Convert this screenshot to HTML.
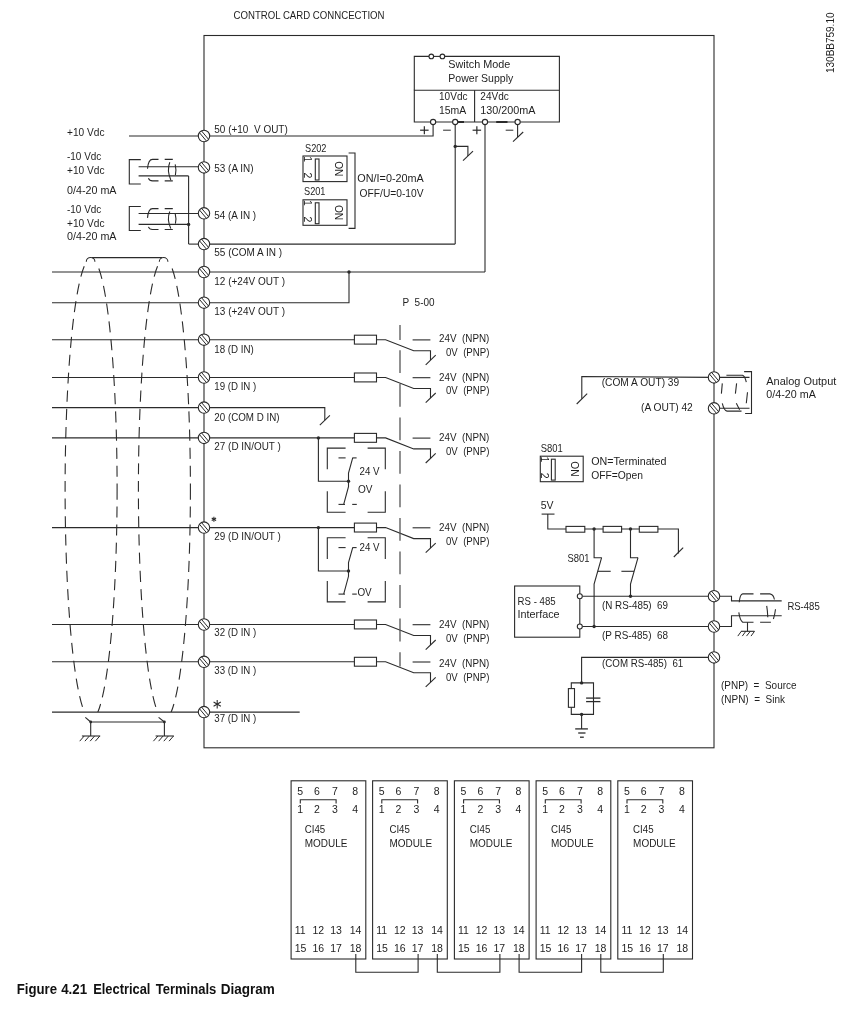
<!DOCTYPE html>
<html><head><meta charset="utf-8"><style>
html,body{margin:0;padding:0;background:#fff;}
svg{display:block;will-change:transform;}
text{white-space:pre;font-family:"Liberation Sans",sans-serif;stroke:none;}
</style></head><body>
<svg width="860" height="1013" viewBox="0 0 860 1013">
<g stroke="#2b2b2b" stroke-width="1.1" fill="none" stroke-linecap="butt">
<rect x="204" y="35.5" width="510" height="712.3" fill="none" stroke-width="1.1"/>
<text x="233.5" y="19.2" font-size="10.8" textLength="151" lengthAdjust="spacingAndGlyphs" fill="#1e1e1e">CONTROL CARD CONNCECTION</text>
<text fill="#1e1e1e" x="0" y="0" font-size="10.5" transform="translate(834.2,73) rotate(-90)" textLength="60.5" lengthAdjust="spacingAndGlyphs">130BB759.10</text>
<polyline points="414.3,90.2 414.3,56.4 429.1,56.4" fill="none"/>
<line x1="433.5" y1="56.4" x2="440.2" y2="56.4"/>
<polyline points="444.6,56.4 559.4,56.4 559.4,122 414.3,122 414.3,90.2 559.4,90.2" fill="none"/>
<circle cx="431.3" cy="56.4" r="2.3" fill="#fff"/>
<circle cx="442.4" cy="56.4" r="2.3" fill="#fff"/>
<line x1="474.6" y1="90.2" x2="474.6" y2="122"/>
<text x="448.3" y="67.9" font-size="10.5" textLength="62" lengthAdjust="spacingAndGlyphs" fill="#1e1e1e">Switch Mode</text>
<text x="448.3" y="81.9" font-size="10.5" textLength="65" lengthAdjust="spacingAndGlyphs" fill="#1e1e1e">Power Supply</text>
<text x="439" y="99.9" font-size="10.5" textLength="28.5" lengthAdjust="spacingAndGlyphs" fill="#1e1e1e">10Vdc</text>
<text x="439" y="113.9" font-size="10.5" textLength="27.3" lengthAdjust="spacingAndGlyphs" fill="#1e1e1e">15mA</text>
<text x="480.3" y="99.9" font-size="10.5" textLength="28.5" lengthAdjust="spacingAndGlyphs" fill="#1e1e1e">24Vdc</text>
<text x="480.3" y="113.9" font-size="10.5" textLength="55.3" lengthAdjust="spacingAndGlyphs" fill="#1e1e1e">130/200mA</text>
<line x1="457.8" y1="122" x2="464" y2="122" stroke-width="2"/>
<line x1="496.2" y1="122" x2="507.5" y2="122" stroke-width="2"/>
<circle cx="433.1" cy="122" r="2.6" fill="#fff"/>
<circle cx="455.2" cy="122" r="2.6" fill="#fff"/>
<circle cx="485" cy="122" r="2.6" fill="#fff"/>
<circle cx="517.6" cy="122" r="2.6" fill="#fff"/>
<line x1="420.1" y1="130.2" x2="428.6" y2="130.2" stroke-width="1.2"/>
<line x1="424.35" y1="126.2" x2="424.35" y2="134.2" stroke-width="1.2"/>
<line x1="443.1" y1="130.2" x2="450.8" y2="130.2" stroke-width="1.0"/>
<line x1="472.6" y1="130.2" x2="481.1" y2="130.2" stroke-width="1.2"/>
<line x1="476.85" y1="126.2" x2="476.85" y2="134.2" stroke-width="1.2"/>
<line x1="505.7" y1="130.2" x2="513.3" y2="130.2" stroke-width="1.0"/>
<polyline points="433.1,124.6 433.1,136 204,136" fill="none"/>
<line x1="455.2" y1="124.6" x2="455.2" y2="244.1"/>
<polyline points="204,244.1 455.2,244.1" fill="none"/>
<circle cx="455.2" cy="146.4" r="1.7" fill="#2b2b2b" stroke="none"/>
<polyline points="455.2,146.4 467.9,146.4 467.9,155.9" fill="none"/>
<line x1="473" y1="151.1" x2="463" y2="160.7"/>
<line x1="485" y1="124.6" x2="485" y2="272"/>
<line x1="517.6" y1="124.6" x2="517.6" y2="137"/>
<line x1="523.2" y1="132" x2="513" y2="141.7"/>
<text x="67" y="136" font-size="10.5" textLength="37.5" lengthAdjust="spacingAndGlyphs" fill="#1e1e1e">+10 Vdc</text>
<line x1="129" y1="136" x2="204" y2="136"/>
<text x="67" y="160.2" font-size="10.5" textLength="34.3" lengthAdjust="spacingAndGlyphs" fill="#1e1e1e">-10 Vdc</text>
<text x="67" y="174.4" font-size="10.5" textLength="37.5" lengthAdjust="spacingAndGlyphs" fill="#1e1e1e">+10 Vdc</text>
<text x="67" y="193.8" font-size="10.5" textLength="49.5" lengthAdjust="spacingAndGlyphs" fill="#1e1e1e">0/4-20 mA</text>
<text x="67" y="212.8" font-size="10.5" textLength="34.3" lengthAdjust="spacingAndGlyphs" fill="#1e1e1e">-10 Vdc</text>
<text x="67" y="226.6" font-size="10.5" textLength="37.5" lengthAdjust="spacingAndGlyphs" fill="#1e1e1e">+10 Vdc</text>
<text x="67" y="239.8" font-size="10.5" textLength="49.5" lengthAdjust="spacingAndGlyphs" fill="#1e1e1e">0/4-20 mA</text>
<polyline points="140.8,159.6 129.3,159.6 129.3,184 140.8,184" fill="none"/>
<line x1="138.6" y1="166.7" x2="204" y2="166.7"/>
<polyline points="138.6,175.9 188.6,175.9" fill="none" stroke-width="1.4"/>
<path d="M147.5,168.7 Q148.3,159.4 152.5,159.4 L158.5,159.4 M164.7,159.4 L172.8,159.4" fill="none"/>
<path d="M148.4,178.3 Q149.5,180.9 152.5,180.9 L158.5,180.9 M164.7,180.9 L172.8,180.9" fill="none"/>
<path d="M169.8,162.3 Q166.6,170.15 170.8,180" fill="none"/>
<path d="M175.2,164.3 Q176.6,170.15 175.4,175.1" fill="none"/>
<polyline points="140.8,206.5 129.3,206.5 129.3,230.5 140.8,230.5" fill="none"/>
<line x1="138.6" y1="213.5" x2="204" y2="213.5"/>
<polyline points="138.6,224.4 188.6,224.4" fill="none" stroke-width="1.4"/>
<path d="M147.5,217.9 Q148.3,208.6 152.5,208.6 L158.5,208.6 M164.7,208.6 L172.8,208.6" fill="none"/>
<path d="M148.4,226.9 Q149.5,229.5 152.5,229.5 L158.5,229.5 M164.7,229.5 L172.8,229.5" fill="none"/>
<path d="M169.8,211.5 Q166.6,219.05 170.8,228.6" fill="none"/>
<path d="M175.2,213.5 Q176.6,219.05 175.4,223.7" fill="none"/>
<line x1="188.6" y1="175.9" x2="188.6" y2="244.1"/>
<line x1="188.6" y1="244.1" x2="204" y2="244.1"/>
<circle cx="188.6" cy="224.4" r="1.7" fill="#2b2b2b" stroke="none"/>
<text x="305" y="152" font-size="10.5" textLength="21.5" lengthAdjust="spacingAndGlyphs" fill="#1e1e1e">S202</text>
<rect x="303" y="156" width="44" height="25.6" fill="none"/>
<rect x="315.3" y="159" width="3.7" height="21" fill="#fff"/>
<text fill="#1e1e1e" font-size="10.5" transform="translate(304,156.2) rotate(90)">1</text>
<text fill="#1e1e1e" font-size="10.5" transform="translate(304,172.6) rotate(90)">2</text>
<text fill="#1e1e1e" font-size="10.5" transform="translate(334.7,161.2) rotate(90)" textLength="15.2" lengthAdjust="spacingAndGlyphs">ON</text>
<text x="304" y="195" font-size="10.5" textLength="21.5" lengthAdjust="spacingAndGlyphs" fill="#1e1e1e">S201</text>
<rect x="303" y="199.8" width="44" height="25.5" fill="none"/>
<rect x="315.3" y="202.8" width="3.7" height="20.9" fill="#fff"/>
<text fill="#1e1e1e" font-size="10.5" transform="translate(304,200) rotate(90)">1</text>
<text fill="#1e1e1e" font-size="10.5" transform="translate(304,216.4) rotate(90)">2</text>
<text fill="#1e1e1e" font-size="10.5" transform="translate(334.7,204.95) rotate(90)" textLength="15.2" lengthAdjust="spacingAndGlyphs">ON</text>
<polyline points="348.6,153 355,153 355,228.4 348.6,228.4" fill="none"/>
<text x="357.3" y="182" font-size="10.5" textLength="66.5" lengthAdjust="spacingAndGlyphs" fill="#1e1e1e">ON/I=0-20mA</text>
<text x="359.6" y="197.4" font-size="10.5" textLength="64" lengthAdjust="spacingAndGlyphs" fill="#1e1e1e">OFF/U=0-10V</text>
<line x1="52" y1="272" x2="204" y2="272"/>
<line x1="52" y1="302.7" x2="204" y2="302.7"/>
<line x1="52" y1="339.7" x2="204" y2="339.7"/>
<line x1="52" y1="377.5" x2="204" y2="377.5"/>
<line x1="52" y1="407.6" x2="204" y2="407.6"/>
<line x1="52" y1="437.9" x2="204" y2="437.9"/>
<line x1="52" y1="527.6" x2="204" y2="527.6"/>
<line x1="52" y1="624.5" x2="204" y2="624.5"/>
<line x1="52" y1="661.8" x2="204" y2="661.8"/>
<line x1="52" y1="712.1" x2="204" y2="712.1"/>
<defs><clipPath id="ec"><rect x="0" y="265" width="204" height="447"/></clipPath></defs>
<ellipse cx="91.1" cy="489" rx="26" ry="231" fill="none" stroke-dasharray="11 7" clip-path="url(#ec)"/>
<ellipse cx="164.4" cy="489" rx="26" ry="231" fill="none" stroke-dasharray="11 7" clip-path="url(#ec)"/>
<path d="M86.3,261.8 A4.3,4.3 0 0 1 94.9,261.8" fill="none"/>
<path d="M159.3,261.8 A4.3,4.3 0 0 1 167.9,261.8" fill="none"/>
<line x1="92" y1="257.6" x2="162" y2="257.6"/>
<line x1="90.7" y1="722" x2="164.4" y2="722"/>
<circle cx="90.7" cy="722" r="1.4" fill="#2b2b2b" stroke="none"/>
<circle cx="164.4" cy="722" r="1.4" fill="#2b2b2b" stroke="none"/>
<line x1="85.3" y1="717.4" x2="90.7" y2="722"/>
<line x1="158.6" y1="717.4" x2="164.4" y2="722"/>
<line x1="90.7" y1="722" x2="90.7" y2="736"/>
<line x1="81.9" y1="736" x2="100.2" y2="736"/>
<line x1="84.2" y1="736" x2="79.7" y2="741.2" stroke-width="1.0"/>
<line x1="89.4" y1="736" x2="84.9" y2="741.2" stroke-width="1.0"/>
<line x1="94.6" y1="736" x2="90.1" y2="741.2" stroke-width="1.0"/>
<line x1="99.8" y1="736" x2="95.3" y2="741.2" stroke-width="1.0"/>
<line x1="164.4" y1="722" x2="164.4" y2="736"/>
<line x1="155.6" y1="736" x2="173.9" y2="736"/>
<line x1="157.9" y1="736" x2="153.4" y2="741.2" stroke-width="1.0"/>
<line x1="163.1" y1="736" x2="158.6" y2="741.2" stroke-width="1.0"/>
<line x1="168.3" y1="736" x2="163.8" y2="741.2" stroke-width="1.0"/>
<line x1="173.5" y1="736" x2="169" y2="741.2" stroke-width="1.0"/>
<text x="214.3" y="132.6" font-size="10.5" textLength="73.5" lengthAdjust="spacingAndGlyphs" fill="#1e1e1e">50 (+10  V OUT)</text>
<text x="214.3" y="171.7" font-size="10.5" textLength="39.2" lengthAdjust="spacingAndGlyphs" fill="#1e1e1e">53 (A IN)</text>
<text x="214.3" y="219" font-size="10.5" textLength="41.8" lengthAdjust="spacingAndGlyphs" fill="#1e1e1e">54 (A IN )</text>
<text x="214.3" y="255.7" font-size="10.5" textLength="67.8" lengthAdjust="spacingAndGlyphs" fill="#1e1e1e">55 (COM A IN )</text>
<text x="214.3" y="285.1" font-size="10.5" textLength="70.7" lengthAdjust="spacingAndGlyphs" fill="#1e1e1e">12 (+24V OUT )</text>
<text x="214.3" y="314.9" font-size="10.5" textLength="70.7" lengthAdjust="spacingAndGlyphs" fill="#1e1e1e">13 (+24V OUT )</text>
<text x="214.3" y="352.8" font-size="10.5" textLength="39.5" lengthAdjust="spacingAndGlyphs" fill="#1e1e1e">18 (D IN)</text>
<text x="214.3" y="389.7" font-size="10.5" textLength="42" lengthAdjust="spacingAndGlyphs" fill="#1e1e1e">19 (D IN )</text>
<text x="214.3" y="420.5" font-size="10.5" textLength="65.3" lengthAdjust="spacingAndGlyphs" fill="#1e1e1e">20 (COM D IN)</text>
<text x="214.3" y="450.3" font-size="10.5" textLength="66.5" lengthAdjust="spacingAndGlyphs" fill="#1e1e1e">27 (D IN/OUT )</text>
<text x="214.3" y="540.3" font-size="10.5" textLength="66.5" lengthAdjust="spacingAndGlyphs" fill="#1e1e1e">29 (D IN/OUT )</text>
<text x="214.3" y="636.4" font-size="10.5" textLength="42" lengthAdjust="spacingAndGlyphs" fill="#1e1e1e">32 (D IN )</text>
<text x="214.3" y="674" font-size="10.5" textLength="42" lengthAdjust="spacingAndGlyphs" fill="#1e1e1e">33 (D IN )</text>
<text x="214.3" y="721.9" font-size="10.5" textLength="42" lengthAdjust="spacingAndGlyphs" fill="#1e1e1e">37 (D IN )</text>
<line x1="204" y1="272" x2="485" y2="272"/>
<circle cx="349" cy="272" r="1.7" fill="#2b2b2b" stroke="none"/>
<polyline points="204,302.7 349,302.7 349,272" fill="none"/>
<polyline points="204,407.6 324.8,407.6 324.8,420.2" fill="none"/>
<line x1="329.9" y1="415.3" x2="319.8" y2="425.1"/>
<line x1="204" y1="712.1" x2="299.7" y2="712.1"/>
<line x1="213.9" y1="516.7" x2="213.9" y2="521.7" stroke-width="1.1"/>
<line x1="211.73" y1="517.95" x2="216.07" y2="520.45" stroke-width="1.1"/>
<line x1="216.07" y1="517.95" x2="211.73" y2="520.45" stroke-width="1.1"/>
<line x1="217.2" y1="700" x2="217.2" y2="708.4" stroke-width="1.1"/>
<line x1="213.56" y1="702.1" x2="220.84" y2="706.3" stroke-width="1.1"/>
<line x1="220.84" y1="702.1" x2="213.56" y2="706.3" stroke-width="1.1"/>
<line x1="204" y1="339.7" x2="354.4" y2="339.7"/>
<rect x="354.4" y="335.2" width="22.1" height="8.9" fill="#fff"/>
<polyline points="376.5,339.7 385.6,339.7 413.7,350.7 430.5,350.7 430.5,360.1" fill="none"/>
<line x1="435.7" y1="355.2" x2="425.7" y2="364.8"/>
<line x1="412.6" y1="339.9" x2="430.4" y2="339.9"/>
<text x="439.1" y="341.8" font-size="10.5" textLength="50.3" lengthAdjust="spacingAndGlyphs" fill="#1e1e1e">24V  (NPN)</text>
<text x="446" y="355.6" font-size="10.5" textLength="43.4" lengthAdjust="spacingAndGlyphs" fill="#1e1e1e">0V  (PNP)</text>
<line x1="204" y1="377.5" x2="354.4" y2="377.5"/>
<rect x="354.4" y="373" width="22.1" height="8.9" fill="#fff"/>
<polyline points="376.5,377.5 385.6,377.5 413.7,388.5 430.5,388.5 430.5,397.9" fill="none"/>
<line x1="435.7" y1="393" x2="425.7" y2="402.6"/>
<line x1="412.6" y1="377.7" x2="430.4" y2="377.7"/>
<text x="439.1" y="380.6" font-size="10.5" textLength="50.3" lengthAdjust="spacingAndGlyphs" fill="#1e1e1e">24V  (NPN)</text>
<text x="446" y="394.4" font-size="10.5" textLength="43.4" lengthAdjust="spacingAndGlyphs" fill="#1e1e1e">0V  (PNP)</text>
<line x1="204" y1="437.9" x2="354.4" y2="437.9"/>
<rect x="354.4" y="433.4" width="22.1" height="8.9" fill="#fff"/>
<polyline points="376.5,437.9 385.6,437.9 413.7,448.9 430.5,448.9 430.5,458.3" fill="none"/>
<line x1="435.7" y1="453.4" x2="425.7" y2="463"/>
<line x1="412.6" y1="438.1" x2="430.4" y2="438.1"/>
<text x="439.1" y="441.2" font-size="10.5" textLength="50.3" lengthAdjust="spacingAndGlyphs" fill="#1e1e1e">24V  (NPN)</text>
<text x="446" y="455" font-size="10.5" textLength="43.4" lengthAdjust="spacingAndGlyphs" fill="#1e1e1e">0V  (PNP)</text>
<line x1="204" y1="527.6" x2="354.4" y2="527.6"/>
<rect x="354.4" y="523.1" width="22.1" height="8.9" fill="#fff"/>
<polyline points="376.5,527.6 385.6,527.6 413.7,538.6 430.5,538.6 430.5,548" fill="none"/>
<line x1="435.7" y1="543.1" x2="425.7" y2="552.7"/>
<line x1="412.6" y1="527.8" x2="430.4" y2="527.8"/>
<text x="439.1" y="531.2" font-size="10.5" textLength="50.3" lengthAdjust="spacingAndGlyphs" fill="#1e1e1e">24V  (NPN)</text>
<text x="446" y="545" font-size="10.5" textLength="43.4" lengthAdjust="spacingAndGlyphs" fill="#1e1e1e">0V  (PNP)</text>
<line x1="204" y1="624.5" x2="354.4" y2="624.5"/>
<rect x="354.4" y="620" width="22.1" height="8.9" fill="#fff"/>
<polyline points="376.5,624.5 385.6,624.5 413.7,635.5 430.5,635.5 430.5,644.9" fill="none"/>
<line x1="435.7" y1="640" x2="425.7" y2="649.6"/>
<line x1="412.6" y1="624.7" x2="430.4" y2="624.7"/>
<text x="439.1" y="627.75" font-size="10.5" textLength="50.3" lengthAdjust="spacingAndGlyphs" fill="#1e1e1e">24V  (NPN)</text>
<text x="446" y="641.55" font-size="10.5" textLength="43.4" lengthAdjust="spacingAndGlyphs" fill="#1e1e1e">0V  (PNP)</text>
<line x1="204" y1="661.8" x2="354.4" y2="661.8"/>
<rect x="354.4" y="657.3" width="22.1" height="8.9" fill="#fff"/>
<polyline points="376.5,661.8 385.6,661.8 413.7,672.8 430.5,672.8 430.5,682.2" fill="none"/>
<line x1="435.7" y1="677.3" x2="425.7" y2="686.9"/>
<line x1="412.6" y1="662" x2="430.4" y2="662"/>
<text x="439.1" y="666.9" font-size="10.5" textLength="50.3" lengthAdjust="spacingAndGlyphs" fill="#1e1e1e">24V  (NPN)</text>
<text x="446" y="680.7" font-size="10.5" textLength="43.4" lengthAdjust="spacingAndGlyphs" fill="#1e1e1e">0V  (PNP)</text>
<text x="402.6" y="305.9" font-size="10.5" textLength="32" lengthAdjust="spacingAndGlyphs" fill="#1e1e1e">P  5-00</text>
<line x1="400" y1="325" x2="400" y2="340" stroke-width="1.3" stroke="#555"/>
<line x1="400" y1="350.3" x2="400" y2="373.1" stroke-width="1.3" stroke="#555"/>
<line x1="400" y1="383.84" x2="400" y2="406.64" stroke-width="1.3" stroke="#555"/>
<line x1="400" y1="417.38" x2="400" y2="440.18" stroke-width="1.3" stroke="#555"/>
<line x1="400" y1="450.92" x2="400" y2="473.72" stroke-width="1.3" stroke="#555"/>
<line x1="400" y1="484.46" x2="400" y2="507.26" stroke-width="1.3" stroke="#555"/>
<line x1="400" y1="518" x2="400" y2="540.8" stroke-width="1.3" stroke="#555"/>
<line x1="400" y1="551.54" x2="400" y2="574.34" stroke-width="1.3" stroke="#555"/>
<line x1="400" y1="585.08" x2="400" y2="607.88" stroke-width="1.3" stroke="#555"/>
<line x1="400" y1="618.62" x2="400" y2="641.42" stroke-width="1.3" stroke="#555"/>
<line x1="400" y1="652.16" x2="400" y2="666.6" stroke-width="1.3" stroke="#555"/>
<circle cx="318.4" cy="437.9" r="1.7" fill="#2b2b2b" stroke="none"/>
<polyline points="318.4,437.9 318.4,481.3 348.5,481.3" fill="none"/>
<circle cx="348.5" cy="481.3" r="1.7" fill="#2b2b2b" stroke="none"/>
<polyline points="345.6,448.1 327.3,448.1 327.3,469.3" fill="none"/>
<polyline points="367.6,448.1 385.3,448.1 385.3,469.3" fill="none"/>
<polyline points="327.3,491.3 327.3,512.2 345.6,512.2" fill="none"/>
<polyline points="385.3,491.3 385.3,512.2 367.6,512.2" fill="none"/>
<line x1="338.5" y1="457.9" x2="345.6" y2="457.9"/>
<line x1="352.4" y1="457.9" x2="356.6" y2="457.9"/>
<line x1="338.5" y1="504.4" x2="345" y2="504.4"/>
<line x1="352.2" y1="504.4" x2="356.8" y2="504.4"/>
<polyline points="352.7,457.9 348.5,473 348.5,486.6 343.7,504.4" fill="none"/>
<text x="359.5" y="474.8" font-size="10.5" textLength="20" lengthAdjust="spacingAndGlyphs" fill="#1e1e1e">24 V</text>
<text x="358" y="492.8" font-size="10.5" textLength="14.5" lengthAdjust="spacingAndGlyphs" fill="#1e1e1e">OV</text>
<circle cx="318.4" cy="527.6" r="1.7" fill="#2b2b2b" stroke="none"/>
<polyline points="318.4,527.6 318.4,571 348.5,571" fill="none"/>
<circle cx="348.5" cy="571" r="1.7" fill="#2b2b2b" stroke="none"/>
<polyline points="345.6,537.8 327.3,537.8 327.3,559" fill="none"/>
<polyline points="367.6,537.8 385.3,537.8 385.3,559" fill="none"/>
<polyline points="327.3,581 327.3,601.9 345.6,601.9" fill="none"/>
<polyline points="385.3,581 385.3,601.9 367.6,601.9" fill="none"/>
<line x1="338.5" y1="547.6" x2="345.6" y2="547.6"/>
<line x1="352.4" y1="547.6" x2="356.6" y2="547.6"/>
<line x1="338.5" y1="594.1" x2="345" y2="594.1"/>
<line x1="352.2" y1="594.1" x2="356.8" y2="594.1"/>
<polyline points="352.7,547.6 348.5,562.7 348.5,576.3 343.7,594.1" fill="none"/>
<text x="359.5" y="550.9" font-size="10.5" textLength="20" lengthAdjust="spacingAndGlyphs" fill="#1e1e1e">24 V</text>
<text x="357.4" y="595.6" font-size="10.5" textLength="14.3" lengthAdjust="spacingAndGlyphs" fill="#1e1e1e">OV</text>
<polyline points="714,377.4 581.8,376.5 581.8,398.8" fill="none"/>
<line x1="587.2" y1="393.6" x2="576.7" y2="404"/>
<text x="601.7" y="386" font-size="10.5" textLength="77.5" lengthAdjust="spacingAndGlyphs" fill="#1e1e1e">(COM A OUT) 39</text>
<text x="641" y="411" font-size="10.5" textLength="51.8" lengthAdjust="spacingAndGlyphs" fill="#1e1e1e">(A OUT) 42</text>
<line x1="714" y1="377.4" x2="749.5" y2="377.4"/>
<line x1="714" y1="408.3" x2="749.5" y2="408.3"/>
<polyline points="744.1,371.6 751.5,371.6 751.5,413.5 745.1,413.5" fill="none"/>
<path d="M726.4,375.3 L742.5,375.3 Q745,376 746.3,382.2" fill="none"/>
<path d="M722.3,383.4 L721.4,393.6 M736.6,383.4 L735.4,393.6 M747.5,392.2 L746.3,403.3" fill="none"/>
<path d="M722.3,403.3 Q724,410.5 727.1,411.1 L741.5,411.1 M736.3,403.3 L739.6,409.7" fill="none"/>
<text x="766.3" y="384.9" font-size="10.5" textLength="70" lengthAdjust="spacingAndGlyphs" fill="#1e1e1e">Analog Output</text>
<text x="766.3" y="397.8" font-size="10.5" textLength="49.5" lengthAdjust="spacingAndGlyphs" fill="#1e1e1e">0/4-20 mA</text>
<text x="540.8" y="452" font-size="10.5" textLength="22" lengthAdjust="spacingAndGlyphs" fill="#1e1e1e">S801</text>
<rect x="540.3" y="456.2" width="42.9" height="25.5" fill="none"/>
<rect x="551.4" y="459.2" width="3.8" height="20.9" fill="#fff"/>
<text fill="#1e1e1e" font-size="10.5" transform="translate(541.3,456.4) rotate(90)">1</text>
<text fill="#1e1e1e" font-size="10.5" transform="translate(541.3,472.8) rotate(90)">2</text>
<text fill="#1e1e1e" font-size="10.5" transform="translate(570.9,461.35) rotate(90)" textLength="15.2" lengthAdjust="spacingAndGlyphs">ON</text>
<text x="591.2" y="465.1" font-size="10.5" textLength="75.3" lengthAdjust="spacingAndGlyphs" fill="#1e1e1e">ON=Terminated</text>
<text x="591.2" y="479.2" font-size="10.5" textLength="51.8" lengthAdjust="spacingAndGlyphs" fill="#1e1e1e">OFF=Open</text>
<text x="540.8" y="508.7" font-size="10.5" textLength="12.8" lengthAdjust="spacingAndGlyphs" fill="#1e1e1e">5V</text>
<line x1="541.6" y1="514.1" x2="554.5" y2="514.1"/>
<polyline points="547.8,514.1 547.8,529 678.4,529 678.4,553.5" fill="none"/>
<line x1="683.2" y1="547.6" x2="673.8" y2="557"/>
<rect x="566" y="526.4" width="18.8" height="5.8" fill="#fff"/>
<rect x="603.1" y="526.4" width="18.5" height="5.8" fill="#fff"/>
<rect x="639.3" y="526.4" width="18.6" height="5.8" fill="#fff"/>
<circle cx="594.1" cy="529" r="1.7" fill="#2b2b2b" stroke="none"/>
<circle cx="630.5" cy="529" r="1.7" fill="#2b2b2b" stroke="none"/>
<polyline points="594.1,529 594.1,557.7 601.6,557.7" fill="none"/>
<polyline points="601.6,557.7 594.1,584.2 594.1,626.5" fill="none"/>
<polyline points="630.5,529 630.5,557.7 638,557.7" fill="none"/>
<polyline points="638,557.7 630.5,584.2 630.5,596.2" fill="none"/>
<line x1="597.7" y1="571.3" x2="610.7" y2="571.3"/>
<line x1="621.4" y1="571.3" x2="634" y2="571.3"/>
<text x="567.5" y="561.9" font-size="10.5" textLength="22" lengthAdjust="spacingAndGlyphs" fill="#1e1e1e">S801</text>
<rect x="514.6" y="586" width="65.2" height="51.2" fill="none"/>
<line x1="582.3" y1="596.2" x2="714" y2="596.2"/>
<line x1="582.3" y1="626.5" x2="714" y2="626.5"/>
<circle cx="579.8" cy="596.2" r="2.5" fill="#fff"/>
<circle cx="579.8" cy="626.5" r="2.5" fill="#fff"/>
<circle cx="630.5" cy="596.2" r="1.7" fill="#2b2b2b" stroke="none"/>
<circle cx="594.1" cy="626.5" r="1.7" fill="#2b2b2b" stroke="none"/>
<text x="517.6" y="604.5" font-size="10.5" textLength="38" lengthAdjust="spacingAndGlyphs" fill="#1e1e1e">RS - 485</text>
<text x="517.6" y="618" font-size="10.5" textLength="42" lengthAdjust="spacingAndGlyphs" fill="#1e1e1e">Interface</text>
<text x="602" y="608.6" font-size="10.5" textLength="66" lengthAdjust="spacingAndGlyphs" fill="#1e1e1e">(N RS-485)  69</text>
<text x="602" y="638.5" font-size="10.5" textLength="66" lengthAdjust="spacingAndGlyphs" fill="#1e1e1e">(P RS-485)  68</text>
<text x="602" y="667.1" font-size="10.5" textLength="81.3" lengthAdjust="spacingAndGlyphs" fill="#1e1e1e">(COM RS-485)  61</text>
<polyline points="714,657.4 581.6,657.4 581.6,682.9" fill="none"/>
<circle cx="581.6" cy="682.9" r="1.7" fill="#2b2b2b" stroke="none"/>
<polyline points="571.3,688.6 571.3,682.9 593.5,682.9 593.5,714.4 571.3,714.4 571.3,707.3" fill="none"/>
<rect x="568.4" y="688.6" width="6.1" height="18.7" fill="none"/>
<line x1="586.1" y1="698.1" x2="600.4" y2="698.1" stroke-width="1.3"/>
<line x1="586.1" y1="701.6" x2="600.4" y2="701.6" stroke-width="1.3"/>
<circle cx="581.6" cy="714.4" r="1.7" fill="#2b2b2b" stroke="none"/>
<line x1="581.6" y1="714.4" x2="581.6" y2="728.9"/>
<line x1="575.2" y1="728.9" x2="587.9" y2="728.9" stroke-width="1.3"/>
<line x1="578.2" y1="733" x2="585.5" y2="733" stroke-width="1.3"/>
<line x1="580" y1="737.2" x2="583.8" y2="737.2" stroke-width="1.3"/>
<polyline points="714,596.2 731.5,596.2 731.5,600.9 781.7,600.9" fill="none"/>
<polyline points="714,626.5 731.5,626.5 731.5,615.7 781.7,615.7" fill="none"/>
<path d="M739.2,602.3 Q740,594.2 742.7,593.9 L753.5,593.9 M760.1,593.9 L769.9,593.9 Q773.5,594.5 774.4,599.5" fill="none"/>
<path d="M766.7,605.8 Q767.6,611 767.8,617.3 M775.5,609.3 Q775,614 773.4,619" fill="none"/>
<path d="M738.8,612.4 Q740,620.5 742.7,622.2 L753.5,622.2 M760.1,622.2 L770.9,622.2" fill="none"/>
<line x1="747.5" y1="622.2" x2="747.5" y2="631.3"/>
<line x1="740.9" y1="631.3" x2="754.5" y2="631.3"/>
<line x1="741.3" y1="631.3" x2="737.8" y2="636.1" stroke-width="1.0"/>
<line x1="745.8" y1="631.3" x2="742.3" y2="636.1" stroke-width="1.0"/>
<line x1="750.3" y1="631.3" x2="746.5" y2="636.1" stroke-width="1.0"/>
<line x1="754.5" y1="631.3" x2="751" y2="636.1" stroke-width="1.0"/>
<text x="787.4" y="609.6" font-size="10.5" textLength="32.3" lengthAdjust="spacingAndGlyphs" fill="#1e1e1e">RS-485</text>
<text x="721" y="688.5" font-size="10.5" textLength="75.5" lengthAdjust="spacingAndGlyphs" fill="#1e1e1e">(PNP)  =  Source</text>
<text x="721" y="702.7" font-size="10.5" textLength="64" lengthAdjust="spacingAndGlyphs" fill="#1e1e1e">(NPN)  =  Sink</text>
<circle cx="204" cy="136" r="5.7" fill="#fff"/>
<line x1="201.47" y1="130.89" x2="208.59" y2="139.37" stroke-width="1.0"/>
<line x1="199.41" y1="132.63" x2="206.53" y2="141.11" stroke-width="1.0"/>
<circle cx="204" cy="167.4" r="5.7" fill="#fff"/>
<line x1="201.47" y1="162.29" x2="208.59" y2="170.77" stroke-width="1.0"/>
<line x1="199.41" y1="164.03" x2="206.53" y2="172.51" stroke-width="1.0"/>
<circle cx="204" cy="213.3" r="5.7" fill="#fff"/>
<line x1="201.47" y1="208.19" x2="208.59" y2="216.67" stroke-width="1.0"/>
<line x1="199.41" y1="209.93" x2="206.53" y2="218.41" stroke-width="1.0"/>
<circle cx="204" cy="244.1" r="5.7" fill="#fff"/>
<line x1="201.47" y1="238.99" x2="208.59" y2="247.47" stroke-width="1.0"/>
<line x1="199.41" y1="240.73" x2="206.53" y2="249.21" stroke-width="1.0"/>
<circle cx="204" cy="272" r="5.7" fill="#fff"/>
<line x1="201.47" y1="266.89" x2="208.59" y2="275.37" stroke-width="1.0"/>
<line x1="199.41" y1="268.63" x2="206.53" y2="277.11" stroke-width="1.0"/>
<circle cx="204" cy="302.7" r="5.7" fill="#fff"/>
<line x1="201.47" y1="297.59" x2="208.59" y2="306.07" stroke-width="1.0"/>
<line x1="199.41" y1="299.33" x2="206.53" y2="307.81" stroke-width="1.0"/>
<circle cx="204" cy="339.7" r="5.7" fill="#fff"/>
<line x1="201.47" y1="334.59" x2="208.59" y2="343.07" stroke-width="1.0"/>
<line x1="199.41" y1="336.33" x2="206.53" y2="344.81" stroke-width="1.0"/>
<circle cx="204" cy="377.5" r="5.7" fill="#fff"/>
<line x1="201.47" y1="372.39" x2="208.59" y2="380.87" stroke-width="1.0"/>
<line x1="199.41" y1="374.13" x2="206.53" y2="382.61" stroke-width="1.0"/>
<circle cx="204" cy="407.6" r="5.7" fill="#fff"/>
<line x1="201.47" y1="402.49" x2="208.59" y2="410.97" stroke-width="1.0"/>
<line x1="199.41" y1="404.23" x2="206.53" y2="412.71" stroke-width="1.0"/>
<circle cx="204" cy="437.9" r="5.7" fill="#fff"/>
<line x1="201.47" y1="432.79" x2="208.59" y2="441.27" stroke-width="1.0"/>
<line x1="199.41" y1="434.53" x2="206.53" y2="443.01" stroke-width="1.0"/>
<circle cx="204" cy="527.6" r="5.7" fill="#fff"/>
<line x1="201.47" y1="522.49" x2="208.59" y2="530.97" stroke-width="1.0"/>
<line x1="199.41" y1="524.23" x2="206.53" y2="532.71" stroke-width="1.0"/>
<circle cx="204" cy="624.5" r="5.7" fill="#fff"/>
<line x1="201.47" y1="619.39" x2="208.59" y2="627.87" stroke-width="1.0"/>
<line x1="199.41" y1="621.13" x2="206.53" y2="629.61" stroke-width="1.0"/>
<circle cx="204" cy="661.8" r="5.7" fill="#fff"/>
<line x1="201.47" y1="656.69" x2="208.59" y2="665.17" stroke-width="1.0"/>
<line x1="199.41" y1="658.43" x2="206.53" y2="666.91" stroke-width="1.0"/>
<circle cx="204" cy="712.1" r="5.7" fill="#fff"/>
<line x1="201.47" y1="706.99" x2="208.59" y2="715.47" stroke-width="1.0"/>
<line x1="199.41" y1="708.73" x2="206.53" y2="717.21" stroke-width="1.0"/>
<circle cx="714" cy="377.4" r="5.7" fill="#fff"/>
<line x1="711.47" y1="372.29" x2="718.59" y2="380.77" stroke-width="1.0"/>
<line x1="709.41" y1="374.03" x2="716.53" y2="382.51" stroke-width="1.0"/>
<circle cx="714" cy="408.3" r="5.7" fill="#fff"/>
<line x1="711.47" y1="403.19" x2="718.59" y2="411.67" stroke-width="1.0"/>
<line x1="709.41" y1="404.93" x2="716.53" y2="413.41" stroke-width="1.0"/>
<circle cx="714" cy="596.2" r="5.7" fill="#fff"/>
<line x1="711.47" y1="591.09" x2="718.59" y2="599.57" stroke-width="1.0"/>
<line x1="709.41" y1="592.83" x2="716.53" y2="601.31" stroke-width="1.0"/>
<circle cx="714" cy="626.5" r="5.7" fill="#fff"/>
<line x1="711.47" y1="621.39" x2="718.59" y2="629.87" stroke-width="1.0"/>
<line x1="709.41" y1="623.13" x2="716.53" y2="631.61" stroke-width="1.0"/>
<circle cx="714" cy="657.4" r="5.7" fill="#fff"/>
<line x1="711.47" y1="652.29" x2="718.59" y2="660.77" stroke-width="1.0"/>
<line x1="709.41" y1="654.03" x2="716.53" y2="662.51" stroke-width="1.0"/>
<rect x="291.1" y="780.8" width="74.7" height="178.2" fill="none"/>
<text x="297.2" y="794.7" font-size="10.5" fill="#1e1e1e">5</text>
<text x="314.1" y="794.7" font-size="10.5" fill="#1e1e1e">6</text>
<text x="331.9" y="794.7" font-size="10.5" fill="#1e1e1e">7</text>
<text x="352.2" y="794.7" font-size="10.5" fill="#1e1e1e">8</text>
<text x="297.2" y="812.9" font-size="10.5" fill="#1e1e1e">1</text>
<text x="314.1" y="812.9" font-size="10.5" fill="#1e1e1e">2</text>
<text x="331.9" y="812.9" font-size="10.5" fill="#1e1e1e">3</text>
<text x="352.2" y="812.9" font-size="10.5" fill="#1e1e1e">4</text>
<polyline points="300.3,803.5 300.3,799.7 336.1,799.7 336.1,803.5" fill="none"/>
<text x="304.7" y="832.8" font-size="10.5" textLength="20.5" lengthAdjust="spacingAndGlyphs" fill="#1e1e1e">CI45</text>
<text x="304.7" y="847" font-size="10.5" textLength="42.7" lengthAdjust="spacingAndGlyphs" fill="#1e1e1e">MODULE</text>
<text x="294.7" y="933.9" font-size="10.5" fill="#1e1e1e">11</text>
<text x="312.4" y="933.9" font-size="10.5" fill="#1e1e1e">12</text>
<text x="330.2" y="933.9" font-size="10.5" fill="#1e1e1e">13</text>
<text x="349.7" y="933.9" font-size="10.5" fill="#1e1e1e">14</text>
<text x="294.7" y="951.7" font-size="10.5" fill="#1e1e1e">15</text>
<text x="312.4" y="951.7" font-size="10.5" fill="#1e1e1e">16</text>
<text x="330.2" y="951.7" font-size="10.5" fill="#1e1e1e">17</text>
<text x="349.7" y="951.7" font-size="10.5" fill="#1e1e1e">18</text>
<rect x="372.6" y="780.8" width="74.7" height="178.2" fill="none"/>
<text x="378.7" y="794.7" font-size="10.5" fill="#1e1e1e">5</text>
<text x="395.6" y="794.7" font-size="10.5" fill="#1e1e1e">6</text>
<text x="413.4" y="794.7" font-size="10.5" fill="#1e1e1e">7</text>
<text x="433.7" y="794.7" font-size="10.5" fill="#1e1e1e">8</text>
<text x="378.7" y="812.9" font-size="10.5" fill="#1e1e1e">1</text>
<text x="395.6" y="812.9" font-size="10.5" fill="#1e1e1e">2</text>
<text x="413.4" y="812.9" font-size="10.5" fill="#1e1e1e">3</text>
<text x="433.7" y="812.9" font-size="10.5" fill="#1e1e1e">4</text>
<polyline points="381.8,803.5 381.8,799.7 417.6,799.7 417.6,803.5" fill="none"/>
<text x="389.4" y="832.8" font-size="10.5" textLength="20.5" lengthAdjust="spacingAndGlyphs" fill="#1e1e1e">CI45</text>
<text x="389.4" y="847" font-size="10.5" textLength="42.7" lengthAdjust="spacingAndGlyphs" fill="#1e1e1e">MODULE</text>
<text x="376.2" y="933.9" font-size="10.5" fill="#1e1e1e">11</text>
<text x="393.9" y="933.9" font-size="10.5" fill="#1e1e1e">12</text>
<text x="411.7" y="933.9" font-size="10.5" fill="#1e1e1e">13</text>
<text x="431.2" y="933.9" font-size="10.5" fill="#1e1e1e">14</text>
<text x="376.2" y="951.7" font-size="10.5" fill="#1e1e1e">15</text>
<text x="393.9" y="951.7" font-size="10.5" fill="#1e1e1e">16</text>
<text x="411.7" y="951.7" font-size="10.5" fill="#1e1e1e">17</text>
<text x="431.2" y="951.7" font-size="10.5" fill="#1e1e1e">18</text>
<rect x="454.4" y="780.8" width="74.7" height="178.2" fill="none"/>
<text x="460.5" y="794.7" font-size="10.5" fill="#1e1e1e">5</text>
<text x="477.4" y="794.7" font-size="10.5" fill="#1e1e1e">6</text>
<text x="495.2" y="794.7" font-size="10.5" fill="#1e1e1e">7</text>
<text x="515.5" y="794.7" font-size="10.5" fill="#1e1e1e">8</text>
<text x="460.5" y="812.9" font-size="10.5" fill="#1e1e1e">1</text>
<text x="477.4" y="812.9" font-size="10.5" fill="#1e1e1e">2</text>
<text x="495.2" y="812.9" font-size="10.5" fill="#1e1e1e">3</text>
<text x="515.5" y="812.9" font-size="10.5" fill="#1e1e1e">4</text>
<polyline points="463.6,803.5 463.6,799.7 499.4,799.7 499.4,803.5" fill="none"/>
<text x="469.8" y="832.8" font-size="10.5" textLength="20.5" lengthAdjust="spacingAndGlyphs" fill="#1e1e1e">CI45</text>
<text x="469.8" y="847" font-size="10.5" textLength="42.7" lengthAdjust="spacingAndGlyphs" fill="#1e1e1e">MODULE</text>
<text x="458" y="933.9" font-size="10.5" fill="#1e1e1e">11</text>
<text x="475.7" y="933.9" font-size="10.5" fill="#1e1e1e">12</text>
<text x="493.5" y="933.9" font-size="10.5" fill="#1e1e1e">13</text>
<text x="513" y="933.9" font-size="10.5" fill="#1e1e1e">14</text>
<text x="458" y="951.7" font-size="10.5" fill="#1e1e1e">15</text>
<text x="475.7" y="951.7" font-size="10.5" fill="#1e1e1e">16</text>
<text x="493.5" y="951.7" font-size="10.5" fill="#1e1e1e">17</text>
<text x="513" y="951.7" font-size="10.5" fill="#1e1e1e">18</text>
<rect x="536.1" y="780.8" width="74.7" height="178.2" fill="none"/>
<text x="542.2" y="794.7" font-size="10.5" fill="#1e1e1e">5</text>
<text x="559.1" y="794.7" font-size="10.5" fill="#1e1e1e">6</text>
<text x="576.9" y="794.7" font-size="10.5" fill="#1e1e1e">7</text>
<text x="597.2" y="794.7" font-size="10.5" fill="#1e1e1e">8</text>
<text x="542.2" y="812.9" font-size="10.5" fill="#1e1e1e">1</text>
<text x="559.1" y="812.9" font-size="10.5" fill="#1e1e1e">2</text>
<text x="576.9" y="812.9" font-size="10.5" fill="#1e1e1e">3</text>
<text x="597.2" y="812.9" font-size="10.5" fill="#1e1e1e">4</text>
<polyline points="545.3,803.5 545.3,799.7 581.1,799.7 581.1,803.5" fill="none"/>
<text x="550.9" y="832.8" font-size="10.5" textLength="20.5" lengthAdjust="spacingAndGlyphs" fill="#1e1e1e">CI45</text>
<text x="550.9" y="847" font-size="10.5" textLength="42.7" lengthAdjust="spacingAndGlyphs" fill="#1e1e1e">MODULE</text>
<text x="539.7" y="933.9" font-size="10.5" fill="#1e1e1e">11</text>
<text x="557.4" y="933.9" font-size="10.5" fill="#1e1e1e">12</text>
<text x="575.2" y="933.9" font-size="10.5" fill="#1e1e1e">13</text>
<text x="594.7" y="933.9" font-size="10.5" fill="#1e1e1e">14</text>
<text x="539.7" y="951.7" font-size="10.5" fill="#1e1e1e">15</text>
<text x="557.4" y="951.7" font-size="10.5" fill="#1e1e1e">16</text>
<text x="575.2" y="951.7" font-size="10.5" fill="#1e1e1e">17</text>
<text x="594.7" y="951.7" font-size="10.5" fill="#1e1e1e">18</text>
<rect x="617.8" y="780.8" width="74.7" height="178.2" fill="none"/>
<text x="623.9" y="794.7" font-size="10.5" fill="#1e1e1e">5</text>
<text x="640.8" y="794.7" font-size="10.5" fill="#1e1e1e">6</text>
<text x="658.6" y="794.7" font-size="10.5" fill="#1e1e1e">7</text>
<text x="678.9" y="794.7" font-size="10.5" fill="#1e1e1e">8</text>
<text x="623.9" y="812.9" font-size="10.5" fill="#1e1e1e">1</text>
<text x="640.8" y="812.9" font-size="10.5" fill="#1e1e1e">2</text>
<text x="658.6" y="812.9" font-size="10.5" fill="#1e1e1e">3</text>
<text x="678.9" y="812.9" font-size="10.5" fill="#1e1e1e">4</text>
<polyline points="627,803.5 627,799.7 662.8,799.7 662.8,803.5" fill="none"/>
<text x="633.1" y="832.8" font-size="10.5" textLength="20.5" lengthAdjust="spacingAndGlyphs" fill="#1e1e1e">CI45</text>
<text x="633.1" y="847" font-size="10.5" textLength="42.7" lengthAdjust="spacingAndGlyphs" fill="#1e1e1e">MODULE</text>
<text x="621.4" y="933.9" font-size="10.5" fill="#1e1e1e">11</text>
<text x="639.1" y="933.9" font-size="10.5" fill="#1e1e1e">12</text>
<text x="656.9" y="933.9" font-size="10.5" fill="#1e1e1e">13</text>
<text x="676.4" y="933.9" font-size="10.5" fill="#1e1e1e">14</text>
<text x="621.4" y="951.7" font-size="10.5" fill="#1e1e1e">15</text>
<text x="639.1" y="951.7" font-size="10.5" fill="#1e1e1e">16</text>
<text x="656.9" y="951.7" font-size="10.5" fill="#1e1e1e">17</text>
<text x="676.4" y="951.7" font-size="10.5" fill="#1e1e1e">18</text>
<polyline points="355.8,954 355.8,972.2 418.1,972.2 418.1,954" fill="none"/>
<polyline points="437.3,954 437.3,972.2 499.9,972.2 499.9,954" fill="none"/>
<polyline points="519.1,954 519.1,972.2 581.6,972.2 581.6,954" fill="none"/>
<polyline points="600.8,954 600.8,972.2 663.3,972.2 663.3,954" fill="none"/>
<text x="16.7" y="993.8" font-size="14" textLength="40.3" lengthAdjust="spacingAndGlyphs" font-weight="bold" fill="#111">Figure</text>
<text x="61.2" y="993.8" font-size="14" textLength="25.9" lengthAdjust="spacingAndGlyphs" font-weight="bold" fill="#111">4.21</text>
<text x="93.2" y="993.8" font-size="14" textLength="57.2" lengthAdjust="spacingAndGlyphs" font-weight="bold" fill="#111">Electrical</text>
<text x="155.7" y="993.8" font-size="14" textLength="60.6" lengthAdjust="spacingAndGlyphs" font-weight="bold" fill="#111">Terminals</text>
<text x="220.8" y="993.8" font-size="14" textLength="54.1" lengthAdjust="spacingAndGlyphs" font-weight="bold" fill="#111">Diagram</text>
</g>
</svg>
</body></html>
